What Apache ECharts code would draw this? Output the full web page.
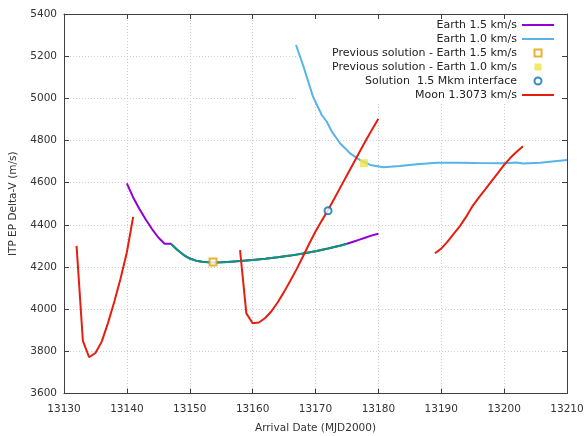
<!DOCTYPE html>
<html>
<head>
<meta charset="utf-8">
<script src="https://cdn.jsdelivr.net/npm/echarts@6/dist/echarts.min.js"></script>
<style>
html,body{margin:0;padding:0;background:#fff;}
#c{width:585px;height:436px;}
</style>
</head>
<body>
<div id="c"></div>
<script>
// ---- data ----
const xTicks = [13130, 13210, 10];
const yTicks = [3600, 5400, 200];

const earth15 = [[13140,4597],[13141,4530],[13142,4475],[13143,4425],[13144,4380],[13145,4340],[13146,4310],[13147,4310],
  [13148,4282],[13149,4258],[13150,4240],[13151,4230],[13152,4225],[13153,4222],[13154,4221],[13155,4222],[13156,4224],
  [13158,4228],[13160,4233],[13162,4239],[13164,4246],[13166,4254],[13168,4264],[13170,4275],[13172,4288],[13174,4302],
  [13175,4310],[13176,4320],[13177,4330],[13178,4340],[13179,4350],[13180,4358]];

const interface15 = [[13147,4310],[13148,4282],[13149,4258],[13150,4240],[13151,4230],[13152,4225],[13153,4222],[13154,4221],
  [13155,4222],[13156,4224],[13158,4228],[13160,4233],[13162,4239],[13164,4246],[13166,4254],[13168,4264],[13170,4275],
  [13172,4288],[13174,4302],[13175,4310]];

const earth10 = [[13166.9,5253],[13168.1,5150],[13169.6,5008],[13171,4921],[13171.8,4889],[13172.6,4842],[13173.9,4787],
  [13175.5,4739],[13177.1,4707],[13178.7,4684],[13180.8,4673],[13183.4,4679],[13186.1,4687],[13189.3,4695],[13192.5,4695],
  [13195.6,4693],[13199.9,4692],[13202,4696],[13203,4691],[13205.7,4695],[13210,4707]];

const prevEarth15 = [[13153.7,4224]];
const prevEarth10 = [[13177.7,4692]];
const solution = [[13172,4467]];

const moon1 = [[13132,4300],[13133,3850],[13134,3772],[13135,3792],[13136,3846],[13137,3935],[13138,4035],[13139,4145],[13140,4270],[13141,4438]];
const moon2 = [[13158,4280],[13159,3980],[13160,3933],[13161,3937],[13162,3958],[13163,3990],[13164,4033],[13165,4082],[13166,4135],
  [13167,4190],[13168,4250],[13169,4310],[13170,4368],[13171,4420],[13172,4470],[13173,4525],[13174,4580],[13175,4635],
  [13176,4690],[13177,4745],[13178,4800],[13179,4852],[13180,4903]];
const moon3 = [[13189,4265],[13190,4287],[13191,4320],[13192,4358],[13193,4395],[13194,4440],[13195,4490],[13196,4530],
  [13197,4568],[13198,4607],[13199,4645],[13200,4684],[13201,4718],[13202,4747],[13203,4773]];

const names = ['Earth 1.5 km/s','Earth 1.0 km/s','Previous solution - Earth 1.5 km/s','Previous solution - Earth 1.0 km/s','Solution  1.5 Mkm interface','Moon 1.3073 km/s'];

const FONT = 'DejaVu Sans';
const axisCol = '#404040';
const gridLine = {show:true, lineStyle:{color:'#cfcfcf', type:[1,2], width:1}};
const LINE_ICON = 'path://M0,0H32V2H0Z';
const SQ_ICON = 'path://M0,0H10V10H0Z';

function lineSeries(name, data, color, z){
  return {type:'line', name, data, symbol:'none', showSymbol:false, smooth:false,
    lineStyle:{color, width:2}, itemStyle:{color}, z: z||2, animation:false, xAxisIndex:0, yAxisIndex:0};
}

const chart = echarts.init(document.getElementById('c'), null, {renderer:'canvas'});
chart.setOption({
  animation:false,
  backgroundColor:'#fff',
  textStyle:{fontFamily:FONT},
  grid:{left:64, right:18, top:14, bottom:42.5, containLabel:false, outerBoundsMode:'none'},
  legend:{
    data:[
      {name:names[0], icon:LINE_ICON, itemStyle:{color:'#9400d3'}},
      {name:names[1], icon:LINE_ICON, itemStyle:{color:'#56b4e9'}},
      {name:names[2], icon:SQ_ICON},
      {name:names[3], icon:SQ_ICON},
      {name:names[4], icon:'circle'},
      {name:names[5], icon:LINE_ICON, itemStyle:{color:'#e51e10'}}
    ],
    orient:'vertical', align:'right', right:23, top:18, z:1,
    itemWidth:32, itemHeight:7, itemGap:0,
    padding:[0,8,0,34], backgroundColor:'#fff',
    textStyle:{fontFamily:FONT, fontSize:11, color:'#222', lineHeight:14},
    selectedMode:false
  },
  xAxis:[
    {type:'value', min:xTicks[0], max:xTicks[1], interval:xTicks[2], position:'bottom',
     name:'Arrival Date (MJD2000)', nameLocation:'middle', nameGap:29,
     nameTextStyle:{fontFamily:FONT, fontSize:10.5, color:'#333'},
     axisLine:{show:true, lineStyle:{color:axisCol, width:1}},
     axisTick:{show:true, inside:true, length:5, lineStyle:{color:axisCol}},
     axisLabel:{fontFamily:FONT, fontSize:10.5, color:'#333', margin:10, formatter:v=>String(v)},
     splitLine:gridLine},
    {type:'value', min:xTicks[0], max:xTicks[1], interval:xTicks[2], position:'top', z:6,
     axisLine:{show:true, onZero:false, lineStyle:{color:axisCol, width:1}},
     axisTick:{show:true, inside:true, length:5, lineStyle:{color:axisCol}},
     axisLabel:{show:false}, splitLine:{show:false}}
  ],
  yAxis:[
    {type:'value', min:yTicks[0], max:yTicks[1], interval:yTicks[2], position:'left',
     name:'ITP EP Delta-V (m/s)', nameLocation:'middle', nameGap:45, nameRotate:90,
     nameTextStyle:{fontFamily:FONT, fontSize:10.5, color:'#333'},
     axisLine:{show:true, lineStyle:{color:axisCol, width:1}},
     axisTick:{show:true, inside:true, length:5, lineStyle:{color:axisCol}},
     axisLabel:{fontFamily:FONT, fontSize:10.5, color:'#333', margin:7, formatter:v=>String(v)},
     splitLine:gridLine},
    {type:'value', min:yTicks[0], max:yTicks[1], interval:yTicks[2], position:'right', z:6,
     axisLine:{show:true, onZero:false, lineStyle:{color:axisCol, width:1}},
     axisTick:{show:true, inside:true, length:5, lineStyle:{color:axisCol}},
     axisLabel:{show:false}, splitLine:{show:false}}
  ],
  series:[
    lineSeries(names[0], earth15, '#9400d3', 2),
    lineSeries('interface', interface15, '#009e73', 3),
    lineSeries(names[1], earth10, '#56b4e9', 2),
    lineSeries(names[5], moon1, '#e51e10', 4),
    lineSeries(names[5], moon2, '#e51e10', 4),
    lineSeries(names[5], moon3, '#e51e10', 4),
    {type:'scatter', name:names[2], data:prevEarth15, symbol:'rect', symbolSize:7, z:6,
     itemStyle:{color:'#ffffff', borderColor:'#e69f00', borderWidth:2}},
    {type:'scatter', name:names[3], data:prevEarth10, symbol:'rect', symbolSize:8, z:6,
     itemStyle:{color:'#f0e442'}},
    {type:'scatter', name:names[4], data:solution, symbol:'circle', symbolSize:7, z:6,
     itemStyle:{color:'#ffffff', borderColor:'#0072b2', borderWidth:2}}
  ]
});
</script>
</body>
</html>
